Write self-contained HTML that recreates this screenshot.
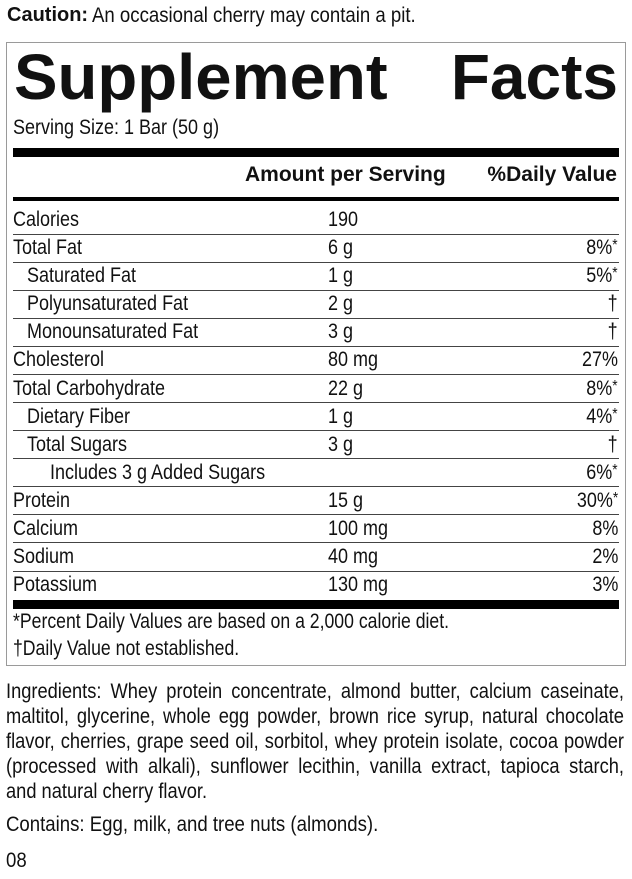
<!DOCTYPE html>
<html>
<head>
<meta charset="utf-8">
<style>
  html,body{margin:0;padding:0;}
  body{width:632px;height:879px;position:relative;background:#fff;overflow:hidden;
       font-family:"Liberation Sans",Arial,Helvetica,sans-serif;color:#111;}
  .t{position:absolute;white-space:nowrap;line-height:1;font-size:21px;}
  .l{transform:scaleX(.857);transform-origin:left center;}
  .r{transform:scaleX(.857);transform-origin:right center;text-align:right;right:14px;}
  .b{font-weight:bold;}
  .bar{position:absolute;left:13px;width:606px;background:#000;}
  .sep{position:absolute;left:13px;width:606px;height:1px;background:#444;}
  .box{position:absolute;left:6px;top:42px;width:620px;height:624px;border:1px solid #9a9a9a;box-sizing:border-box;}
  sup{font-size:16px;line-height:0;vertical-align:4px;}
  .ing{position:absolute;left:6px;width:710.3px;font-size:21px;line-height:1;transform:scaleX(.87);transform-origin:left center;}
  .ing div{text-align:justify;text-align-last:justify;height:25px;}
  .ing div.last{text-align:left;text-align-last:left;}
</style>
</head>
<body>

<!-- Caution line -->
<div class="t b" style="left:7px;top:5px;font-size:20px;">Caution:</div>
<div class="t" style="left:92px;top:5px;transform:scaleX(.886);transform-origin:left center;">An occasional cherry may contain a pit.</div>

<!-- Box -->
<div class="box"></div>

<!-- Title -->
<div class="t b" style="left:14px;top:45px;font-size:64px;transform:scaleX(1.02);transform-origin:left center;">Supplement</div>
<div class="t b" style="right:14px;top:45px;font-size:64px;">Facts</div>

<!-- Serving size -->
<div class="t l" style="left:13px;top:117px;">Serving Size: 1 Bar (50 g)</div>

<!-- Bars -->
<div class="bar" style="top:148px;height:9px;"></div>
<div class="bar" style="top:197px;height:4px;"></div>
<div class="bar" style="top:600px;height:9px;"></div>

<!-- Header -->
<div class="t b" style="left:245px;top:164px;">Amount per Serving</div>
<div class="t b" style="right:15px;top:164px;">%Daily Value</div>

<!-- Separators -->
<div class="sep" style="top:234px;"></div>
<div class="sep" style="top:262px;"></div>
<div class="sep" style="top:290px;"></div>
<div class="sep" style="top:318px;"></div>
<div class="sep" style="top:346px;"></div>
<div class="sep" style="top:374px;"></div>
<div class="sep" style="top:402px;"></div>
<div class="sep" style="top:430px;"></div>
<div class="sep" style="top:458px;"></div>
<div class="sep" style="top:486px;"></div>
<div class="sep" style="top:514px;"></div>
<div class="sep" style="top:542px;"></div>
<div class="sep" style="top:571px;"></div>

<!-- Rows -->
<div class="t l" style="left:13px;top:209px;">Calories</div>
<div class="t l" style="left:328px;top:209px;">190</div>

<div class="t l" style="left:13px;top:237px;">Total Fat</div>
<div class="t l" style="left:328px;top:237px;">6 g</div>
<div class="t r" style="top:237px;">8%<sup>*</sup></div>

<div class="t l" style="left:27px;top:265px;">Saturated Fat</div>
<div class="t l" style="left:328px;top:265px;">1 g</div>
<div class="t r" style="top:265px;">5%<sup>*</sup></div>

<div class="t l" style="left:27px;top:293px;">Polyunsaturated Fat</div>
<div class="t l" style="left:328px;top:293px;">2 g</div>
<div class="t r" style="top:293px;">†</div>

<div class="t l" style="left:27px;top:321px;">Monounsaturated Fat</div>
<div class="t l" style="left:328px;top:321px;">3 g</div>
<div class="t r" style="top:321px;">†</div>

<div class="t l" style="left:13px;top:349px;">Cholesterol</div>
<div class="t l" style="left:328px;top:349px;">80 mg</div>
<div class="t r" style="top:349px;">27%</div>

<div class="t l" style="left:13px;top:378px;">Total Carbohydrate</div>
<div class="t l" style="left:328px;top:378px;">22 g</div>
<div class="t r" style="top:378px;">8%<sup>*</sup></div>

<div class="t l" style="left:27px;top:406px;">Dietary Fiber</div>
<div class="t l" style="left:328px;top:406px;">1 g</div>
<div class="t r" style="top:406px;">4%<sup>*</sup></div>

<div class="t l" style="left:27px;top:434px;">Total Sugars</div>
<div class="t l" style="left:328px;top:434px;">3 g</div>
<div class="t r" style="top:434px;">†</div>

<div class="t l" style="left:50px;top:462px;">Includes 3 g Added Sugars</div>
<div class="t r" style="top:462px;">6%<sup>*</sup></div>

<div class="t l" style="left:13px;top:490px;">Protein</div>
<div class="t l" style="left:328px;top:490px;">15 g</div>
<div class="t r" style="top:490px;">30%<sup>*</sup></div>

<div class="t l" style="left:13px;top:518px;">Calcium</div>
<div class="t l" style="left:328px;top:518px;">100 mg</div>
<div class="t r" style="top:518px;">8%</div>

<div class="t l" style="left:13px;top:546px;">Sodium</div>
<div class="t l" style="left:328px;top:546px;">40 mg</div>
<div class="t r" style="top:546px;">2%</div>

<div class="t l" style="left:13px;top:574px;">Potassium</div>
<div class="t l" style="left:328px;top:574px;">130 mg</div>
<div class="t r" style="top:574px;">3%</div>

<!-- Footnotes -->
<div class="t" style="left:13px;top:611px;transform:scaleX(.84);transform-origin:left center;">*Percent Daily Values are based on a 2,000 calorie diet.</div>
<div class="t" style="left:13px;top:638px;transform:scaleX(.84);transform-origin:left center;">†Daily Value not established.</div>

<!-- Ingredients -->
<div class="ing" style="top:681px;">
  <div>Ingredients: Whey protein concentrate, almond butter, calcium caseinate,</div>
  <div>maltitol, glycerine, whole egg powder, brown rice syrup, natural chocolate</div>
  <div>flavor, cherries, grape seed oil, sorbitol, whey protein isolate, cocoa powder</div>
  <div>(processed with alkali), sunflower lecithin, vanilla extract, tapioca starch,</div>
  <div class="last">and natural cherry flavor.</div>
</div>

<div class="t" style="left:6px;top:814px;transform:scaleX(.886);transform-origin:left center;">Contains: Egg, milk, and tree nuts (almonds).</div>
<div class="t" style="left:6px;top:850px;transform:scaleX(.886);transform-origin:left center;">08</div>

</body>
</html>
